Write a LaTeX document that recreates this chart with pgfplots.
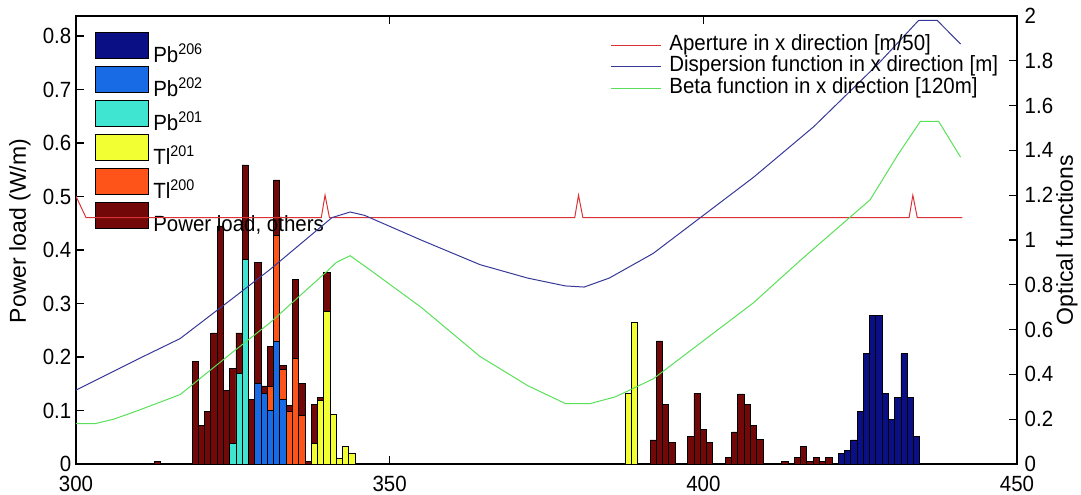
\documentclass[border=0pt]{standalone}
\usepackage{fontspec}
\setmainfont{Liberation Sans}[FakeStretch=0.93]
\newfontfamily\labfont{Liberation Sans}
\usepackage{pgfplots}
\pgfplotsset{compat=1.18}
\definecolor{cNavy}{rgb}{0.04,0.06,0.52}
\definecolor{cBlue}{rgb}{0.10,0.42,0.90}
\definecolor{cCyan}{rgb}{0.25,0.90,0.82}
\definecolor{cYel}{rgb}{0.95,1.00,0.20}
\definecolor{cOra}{rgb}{1.00,0.33,0.10}
\definecolor{cDred}{rgb}{0.45,0.03,0.03}
\definecolor{lRed}{rgb}{0.85,0.20,0.22}
\definecolor{lBlue}{rgb}{0.22,0.22,0.60}
\definecolor{lGreen}{rgb}{0.35,0.88,0.35}
\pgfplotsset{
  mybar/.style={ybar, bar width=1, bar shift=0pt, draw=black, line width=0.4pt,
    legend image code/.code={\draw[##1, line width=0.4pt] (0pt,-1.5pt) rectangle (26.5pt,11.5pt);}},
  every tick label/.append style={font=\fontsize{11}{13}\selectfont},
  /pgf/number format/assume math mode=true,
}
\begin{document}
\fontsize{11}{13}\selectfont
\begin{tikzpicture}
\path[use as bounding box] (-38pt,-15pt) rectangle (502.5pt,232pt);
\begin{axis}[at={(0,0)}, anchor=south west, scale only axis,
  width=470.5pt, height=224pt,
  xmin=300, xmax=450, ymin=0, ymax=0.8375,
  xtick={300,350,400,450}, ytick={0,0.1,0.2,0.3,0.4,0.5,0.6,0.7,0.8},
  ytick pos=left, tick align=inside, major tick length=4pt,
  axis line style={line width=0.6pt}, tick style={black, line width=0.6pt},
  yticklabel style={/pgf/number format/fixed, /pgf/number format/precision=1, xshift=1.5pt},
  xticklabel style={yshift=-2pt},
  ylabel={Power load (W/m)},
  ylabel style={at={(axis description cs:-0.0595,0.52)}, anchor=center, font=\labfont\fontsize{11.5}{13}\selectfont},
  reverse legend,
  legend style={at={(axis description cs:0.0139,0.975)}, anchor=north west,
    draw=none, fill=none, row sep=-0.2pt, column sep=2pt,
    nodes={inner sep=0pt}, font=\fontsize{11}{13}\selectfont},
  legend cell align=left,
]
% Power load, others (top of full bar)
\addplot[mybar, fill=cDred] coordinates {
(313,0.005) (319,0.191) (320,0.072) (321,0.099) (322,0.245) (323,0.445) (324,0.138)
(325,0.179) (326,0.245) (327,0.559) (328,0.120) (329,0.377) (330,0.146) (331,0.219)
(332,0.531) (333,0.185) (334,0.110) (335,0.345) (336,0.151) (337,0.005) (338,0.112)
(339,0.124) (340,0.358)
(392,0.045) (393,0.230) (394,0.111) (395,0.040)
(398,0.052) (399,0.132) (400,0.064) (401,0.040)
(404,0.012) (405,0.060) (406,0.131) (407,0.111) (408,0.072) (409,0.046)
(413,0.005) (415,0.012) (416,0.032) (417,0.005) (418,0.012) (419,0.005) (420,0.012)
};
\addlegendentry{Power load, others}
% Tl200 (cumulative top)
\addplot[mybar, fill=cOra] coordinates {
(331,0.145) (332,0.428) (333,0.176) (334,0.098) (335,0.198) (336,0.090)
};
\addlegendentry{Tl\textsuperscript{200}}
% Tl201
\addplot[mybar, fill=cYel] coordinates {
(338,0.039) (339,0.118) (340,0.285) (341,0.093) (342,0.011) (343,0.032) (344,0.020)
(388,0.132) (389,0.265)
};
\addlegendentry{Tl\textsuperscript{201}}
% Pb201
\addplot[mybar, fill=cCyan] coordinates {
(325,0.039) (326,0.170) (327,0.383)
};
\addlegendentry{Pb\textsuperscript{201}}
% Pb202
\addplot[mybar, fill=cBlue] coordinates {
(329,0.151) (330,0.132) (331,0.100) (332,0.230) (333,0.120)
};
\addlegendentry{Pb\textsuperscript{202}}
% Pb206
\addplot[mybar, fill=cNavy] coordinates {
(422,0.020) (423,0.025) (424,0.045) (425,0.099) (426,0.206) (427,0.278) (428,0.278)
(429,0.132) (430,0.084) (431,0.124) (432,0.206) (433,0.124) (434,0.052)
};
\addlegendentry{Pb\textsuperscript{206}}
\end{axis}

\begin{axis}[at={(0,0)}, anchor=south west, scale only axis,
  width=470.5pt, height=224pt,
  xmin=300, xmax=450, ymin=0, ymax=2,
  axis x line=none, axis y line*=right, axis line style={-, line width=0.6pt},
  tick align=inside, major tick length=4pt, tick style={black, line width=0.6pt},
  ytick={0,0.2,0.4,0.6,0.8,1,1.2,1.4,1.6,1.8,2},
  yticklabel style={/pgf/number format/fixed, /pgf/number format/precision=1},
  ylabel={Optical functions},
  ylabel style={at={(axis description cs:1.053,0.5)}, anchor=center, font=\labfont\fontsize{11.5}{13}\selectfont},
  legend style={at={(axis description cs:0.5611,0.9672)}, anchor=north west,
    draw=none, fill=none, row sep=0.8pt, column sep=4pt,
    nodes={inner sep=0pt, text height=7.5pt, text depth=2.5pt},
    font=\fontsize{11}{13}\selectfont},
  legend cell align=left,
  legend image code/.code={\draw[#1] (0pt,0pt) -- (25pt,0pt);},
]
\addplot[lRed, line width=0.5pt] coordinates {
(300,1.195) (301.6,1.1) (339.1,1.1) (339.7,1.2) (340.4,1.1)
(379.5,1.1) (380.1,1.2) (380.8,1.1)
(432.8,1.1) (433.4,1.2) (434.1,1.1) (441.3,1.1)
};
\addlegendentry{Aperture in x direction [m/50]}
\addplot[lBlue, line width=0.5pt] coordinates {
(300,0.33) (305,0.40) (310,0.47) (316.6,0.56) (325,0.74) (331,0.87) (340.8,1.10)
(343.7,1.125) (346,1.11) (355,1.00) (364.4,0.89) (372,0.83) (378,0.795) (381,0.79)
(385,0.83) (392,0.94) (400,1.11) (408,1.28) (417.6,1.506) (428,1.79) (434.3,1.98)
(437.3,1.98) (441,1.875)
};
\addlegendentry{Dispersion function in x direction [m]}
\addplot[lGreen, line width=0.5pt] coordinates {
(300,0.18) (303,0.18) (306,0.20) (310,0.24) (316.6,0.31) (325,0.50) (330.9,0.63)
(340,0.86) (341.5,0.90) (343.7,0.93) (346.9,0.866) (355,0.70) (364.4,0.48) (372,0.35)
(378,0.27) (382,0.27) (386,0.30) (392,0.38) (400,0.55) (408,0.72) (415.5,0.91)
(426.6,1.18) (431,1.38) (434.6,1.53) (437.5,1.53) (441,1.37)
};
\addlegendentry{Beta function in x direction [120m]}
\end{axis}
\end{tikzpicture}
\end{document}
